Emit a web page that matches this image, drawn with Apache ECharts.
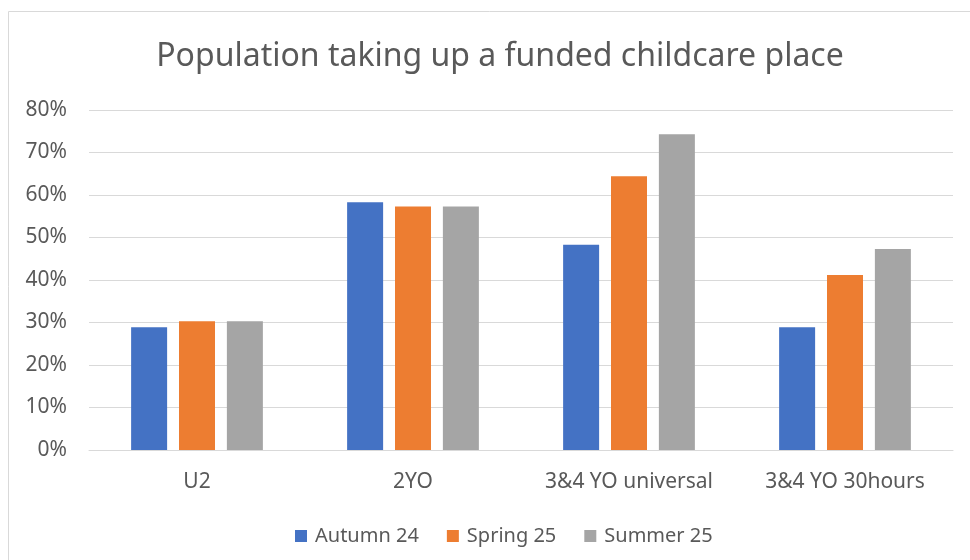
<!DOCTYPE html>
<html>
<head>
<meta charset="utf-8">
<script src="https://cdn.jsdelivr.net/npm/echarts@6/dist/echarts.min.js"></script>
<style>
  html, body { margin: 0; padding: 0; background: #fff; }
  #chart { width: 970px; height: 560px; }
</style>
</head>
<body>
<div id="chart"></div>
<script>
var categories = ['U2', '2YO', '3&4 YO universal', '3&4 YO 30hours'];
var seriesNames = ['Autumn 24', 'Spring 25', 'Summer 25'];
var autumn24 = [28.9, 58.3, 48.3, 28.9];
var spring25 = [30.3, 57.3, 64.4, 41.2];
var summer25 = [30.3, 57.3, 74.3, 47.3];
var colors = ['#4472C4', '#ED7D31', '#A5A5A5'];

var font = 'Noto Sans';
var values = [autumn24, spring25, summer25];

var myChart = echarts.init(document.getElementById('chart'));
var option = {
    animation: false,
    color: colors,
    graphic: [{
        type: 'rect',
        shape: { x: 8.5, y: 11.5, width: 980, height: 580 },
        style: { fill: 'none', stroke: '#D9D9D9', lineWidth: 1 }
    }],
    title: {
        text: 'Population taking up a funded childcare place',
        left: 495,
        top: 36,
        textAlign: 'center',
        textStyle: { fontFamily: font, fontSize: 32, fontWeight: 'normal', color: '#595959' }
    },
    legend: {
        data: seriesNames,
        top: 521,
        left: 290,
        icon: 'rect',
        itemWidth: 12,
        itemHeight: 12,
        itemGap: 28,
        textStyle: { fontFamily: font, fontSize: 20, color: '#595959', padding: [0, 0, 0, 3] }
    },
    grid: { left: 89, right: 17, top: 110, bottom: 110 },
    xAxis: {
        type: 'category',
        data: categories,
        axisTick: { show: false },
        axisLine: { lineStyle: { color: '#D9D9D9', width: 1 } },
        axisLabel: { fontFamily: font, fontSize: 21, color: '#595959', margin: 22, interval: 0 }
    },
    yAxis: {
        type: 'value',
        min: 0,
        max: 80,
        interval: 10,
        axisLabel: {
            fontFamily: font, fontSize: 21, color: '#595959', margin: 22,
            formatter: function (v) { return v + '%'; }
        },
        splitLine: { lineStyle: { color: '#D9D9D9', width: 1 } },
        axisLine: { show: false },
        axisTick: { show: false }
    },
    series: seriesNames.map(function (name, i) {
        return {
            name: name,
            type: 'bar',
            data: values[i],
            barWidth: 36,
            barGap: '33%'
        };
    })
};
myChart.setOption(option);
</script>
</body>
</html>
